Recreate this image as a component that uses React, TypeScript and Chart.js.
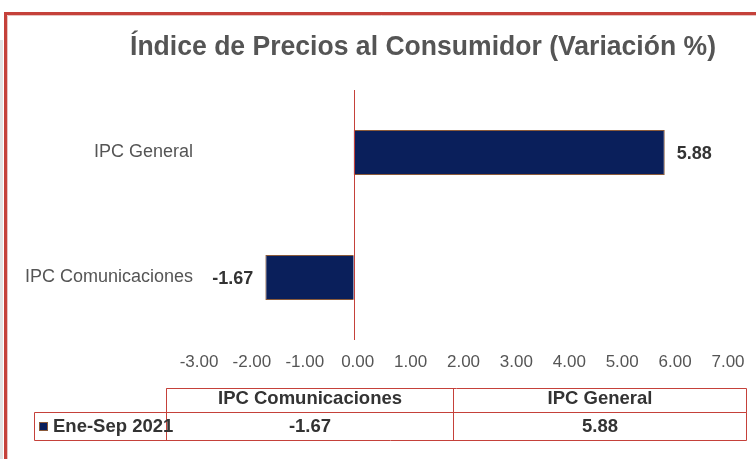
import React, { useEffect, useRef } from "react";
import { Chart, registerables } from "chart.js";

Chart.register(...registerables);

const titleText = "Índice de Precios al Consumidor (Variación %)";
const categories = ["IPC Comunicaciones", "IPC General"];
const seriesName = "Ene-Sep 2021";
const values = [-1.67, 5.88];
const xMin = -3;
const xMax = 7;
const xStep = 1;

const FONT = "'Liberation Sans', Arial, sans-serif";
const RED = "#c5413a";
const NAVY = "#0a1f5b";
const GRAY = "#555555";

const decorPlugin = {
  id: "decor",
  afterDraw(chart: any) {
    const ctx = chart.ctx as CanvasRenderingContext2D;
    const { chartArea } = chart;
    const xs = chart.scales.x;
    ctx.save();

    // outer frame
    ctx.fillStyle = "#e3e3e3";
    ctx.fillRect(0, 40, 3, 419);
    ctx.strokeStyle = "#e8c4c2";
    ctx.lineWidth = 1;
    ctx.beginPath();
    ctx.moveTo(7.5, 459);
    ctx.lineTo(7.5, 15.5);
    ctx.lineTo(756, 15.5);
    ctx.stroke();
    ctx.strokeStyle = RED;
    ctx.lineWidth = 3;
    ctx.beginPath();
    ctx.moveTo(5.5, 459);
    ctx.lineTo(5.5, 13.5);
    ctx.lineTo(756, 13.5);
    ctx.stroke();

    // title
    ctx.fillStyle = GRAY;
    ctx.font = `bold 27px ${FONT}`;
    ctx.textAlign = "center";
    ctx.textBaseline = "middle";
    ctx.fillText(titleText, 423, 48, 586);

    // zero line
    const x0 = Math.round(xs.getPixelForValue(0)) + 0.5;
    ctx.strokeStyle = RED;
    ctx.lineWidth = 1;
    ctx.beginPath();
    ctx.moveTo(x0, chartArea.top);
    ctx.lineTo(x0, chartArea.bottom);
    ctx.stroke();

    // value labels
    const meta = chart.getDatasetMeta(0);
    ctx.font = `bold 18px ${FONT}`;
    ctx.fillStyle = "#333333";
    meta.data.forEach((bar: any, i: number) => {
      const v = values[i];
      const txt = v.toFixed(2);
      if (v >= 0) {
        ctx.textAlign = "left";
        ctx.fillText(txt, bar.x + 12, bar.y + 2);
      } else {
        ctx.textAlign = "right";
        ctx.fillText(txt, bar.x - 12, bar.y + 2);
      }
    });

    // data table
    const c0 = 166.5, c1 = 453.5, c2 = 746.5, rl = 34.5;
    const t0 = 388.5, t1 = 412.5, t2 = 440.5;
    ctx.strokeStyle = RED;
    ctx.lineWidth = 1;
    ctx.beginPath();
    ctx.rect(c0, t0, c2 - c0, t1 - t0);
    ctx.rect(rl, t1, c2 - rl, t2 - t1);
    ctx.moveTo(c1, t0);
    ctx.lineTo(c1, t2);
    ctx.moveTo(c0, t0);
    ctx.lineTo(c0, t2);
    ctx.stroke();

    ctx.fillStyle = "#333333";
    ctx.font = `bold 18.5px ${FONT}`;
    ctx.textAlign = "center";
    ctx.textBaseline = "middle";
    const cols = [(c0 + c1) / 2, (c1 + c2) / 2];
    categories.forEach((c, i) => ctx.fillText(c, cols[i], 399));
    values.forEach((v, i) => ctx.fillText(v.toFixed(2), cols[i], 427));

    ctx.fillStyle = NAVY;
    ctx.fillRect(39, 422, 9, 9);
    ctx.strokeStyle = "#8a5a3a";
    ctx.strokeRect(39.5, 422.5, 8, 8);
    ctx.fillStyle = "#333333";
    ctx.textAlign = "left";
    ctx.fillText(seriesName, 53, 427);

    ctx.restore();
  },
};

export default function App() {
  const ref = useRef<HTMLCanvasElement>(null);
  useEffect(() => {
    if (!ref.current) return;
    const chart = new Chart(ref.current, {
      type: "bar",
      data: {
        labels: categories,
        datasets: [
          {
            label: seriesName,
            data: values,
            backgroundColor: NAVY,
            borderColor: "#8a5a3a",
            borderWidth: 1,
            categoryPercentage: 0.36,
            barPercentage: 1,
          },
        ],
      },
      options: {
        indexAxis: "y",
        animation: false,
        responsive: false,
        devicePixelRatio: 1,
        layout: { padding: { top: 90, right: 32, left: 0, bottom: 0 } },
        plugins: {
          legend: { display: false },
          tooltip: { enabled: false },
          title: { display: false },
        },
        scales: {
          x: {
            type: "linear",
            min: xMin,
            max: xMax,
            grid: { display: false, drawTicks: false },
            border: { display: false },
            ticks: {
              stepSize: xStep,
              padding: 12,
              labelOffset: 4,
              color: GRAY,
              font: { family: FONT, size: 17 },
              callback: (v: any) => Number(v).toFixed(2),
              maxRotation: 0,
              autoSkip: false,
            },
            afterFit: (s: any) => {
              s.height = 119;
            },
          },
          y: {
            reverse: true,
            grid: { display: false, drawTicks: false },
            border: { display: false },
            ticks: {
              padding: 2,
              color: GRAY,
              font: { family: FONT, size: 18 },
            },
            afterFit: (s: any) => {
              s.width = 195;
            },
          },
        },
      },
      plugins: [decorPlugin],
    });
    return () => chart.destroy();
  }, []);
  return (
    <div style={{ position: "fixed", left: 0, top: 0, width: 756, height: 459, background: "#fff" }}>
      <canvas ref={ref} width={756} height={459} style={{ width: 756, height: 459, display: "block" }} />
    </div>
  );
}
